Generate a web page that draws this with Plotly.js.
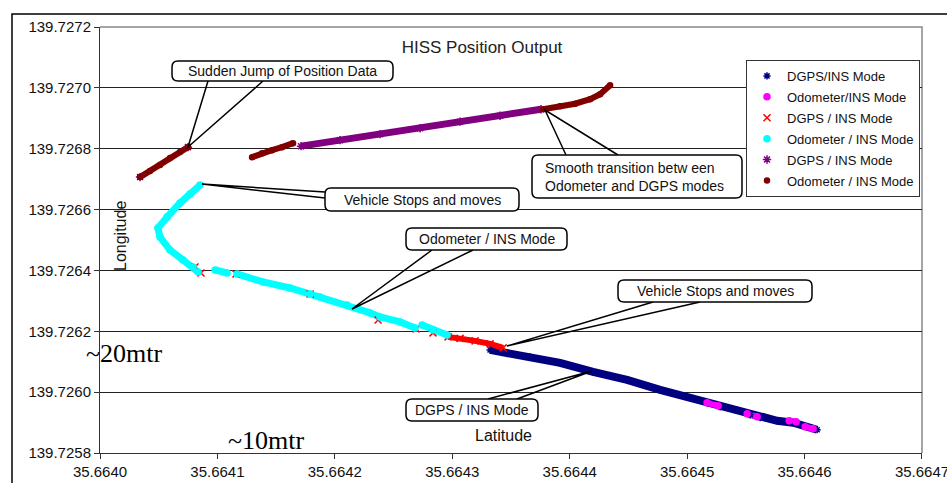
<!DOCTYPE html>
<html>
<head>
<meta charset="utf-8">
<script src="https://cdn.plot.ly/plotly-3.0.1.min.js"></script>
<style>html,body{margin:0;padding:0;background:#fff}#chart{width:947px;height:483px}</style>
</head>
<body>
<div id="chart"></div>
<script>
// ---- Data ----
const dgpsInsA_lat = [35.6643322,35.6643663,35.6643918,35.6644199,35.6644489,35.664477,35.6645,35.664517,35.6645281,35.6645426,35.6645537,35.6645622,35.6645767,35.6645903,35.6646107];
const dgpsInsA_lon = [139.7261389,139.726116,139.7260963,139.7260667,139.7260405,139.7260077,139.7259847,139.725965,139.7259519,139.725942,139.7259256,139.7259158,139.7259059,139.7258994,139.7258764];

const odoInsA_lat = [35.664517,35.6645264,null,35.6645511,35.6645596,null,35.6645869,35.6645928,null,35.6646005,35.6646073];
const odoInsA_lon = [139.725965,139.7259552,null,139.7259289,139.7259191,null,139.7259059,139.7259026,null,139.7258862,139.7258797];

const dgpsInsB_lat = [35.6640809,null,35.664086,null,35.6641158,null,35.6641789,null,35.6642368,null,35.6642692,null,35.6642836,null,35.6642964,35.6643066,35.6643194,35.6643322,35.6643433];
const dgpsInsB_lon = [139.7264113,null,139.7263916,null,139.7263884,null,139.7263227,null,139.7262374,null,139.7262079,null,139.7261947,null,139.7261816,139.7261767,139.7261685,139.7261586,139.7261455];

const odoInsB_lat = [35.6640852,35.6640766,35.6640681,35.6640571,35.6640494,35.6640511,35.6640596,35.6640707,35.6640792,35.6640835,null,35.664098,35.6641082,null,35.6641167,35.6641388,35.6641618,35.6641789,35.6641874,35.6642104,35.66423,35.6642385,35.6642555,35.6642683,null,35.6642743,35.6642836,35.6642956];
const odoInsB_lon = [139.7266804,139.7266509,139.7266214,139.7265754,139.7265393,139.7265098,139.7264671,139.7264343,139.7264113,139.7263949,null,139.7264015,139.7263916,null,139.7263884,139.7263621,139.7263424,139.7263227,139.7263129,139.7262866,139.7262604,139.7262472,139.7262308,139.7262111,null,139.726221,139.7262046,139.7261882];

const dgpsInsC_lat = [35.6640341,null,35.6640749,null,35.6641712,35.6642044,35.6642385,35.6642726,35.6643066,35.6643407,35.6643756];
const dgpsInsC_lon = [139.7267067,null,139.7268052,null,139.7268084,139.7268281,139.7268478,139.7268675,139.7268889,139.7269085,139.7269299];

const odoInsC_lat = [35.6640341,35.6640426,35.6640511,35.6640596,35.6640681,35.6640749,null,35.6641295,35.664138,35.6641465,35.664155,35.6641644,null,35.6643773,35.6643918,35.6644046,35.6644174,35.6644259,35.6644344];
const odoInsC_lon = [139.7267067,139.7267264,139.7267461,139.7267691,139.7267888,139.7268052,null,139.7267723,139.7267855,139.7267953,139.7268052,139.7268183,null,139.7269299,139.7269397,139.7269479,139.7269627,139.7269791,139.7270086];

const seriesNames = ["DGPS/INS Mode","Odometer/INS Mode","DGPS / INS Mode","Odometer / INS Mode","DGPS / INS Mode","Odometer / INS Mode"];
const xTickVals = [35.6640,35.6641,35.6642,35.6643,35.6644,35.6645,35.6646,35.6647];
const yTickVals = [139.7258,139.7260,139.7262,139.7264,139.7266,139.7268,139.7270,139.7272];

const chartTitle = "HISS Position Output";
const xTitle = "Latitude";
const yTitle = "Longitude";
const callouts = [
  "Sudden Jump of Position Data",
  "Vehicle Stops and moves",
  "Odometer / INS Mode",
  "Smooth transition betw een<br>Odometer and DGPS modes",
  "Vehicle Stops and moves",
  "DGPS / INS Mode"
];

// ---- Styling ----
const FONT = "Liberation Sans, Arial, sans-serif";
const series = [
  {x:dgpsInsA_lat, y:dgpsInsA_lon, color:"#000080", sym:"asterisk-open", size:6, lw:8},
  {x:odoInsA_lat, y:odoInsA_lon, color:"#FF00FF", sym:"circle", size:6, lw:6},
  {x:dgpsInsB_lat, y:dgpsInsB_lon, color:"#FF0000", sym:"x-thin-open", size:7, lw:6},
  {x:odoInsB_lat, y:odoInsB_lon, color:"#00FFFF", sym:"circle", size:6, lw:7},
  {x:dgpsInsC_lat, y:dgpsInsC_lon, color:"#800080", sym:"asterisk-open", size:7, lw:7},
  {x:odoInsC_lat, y:odoInsC_lon, color:"#800000", sym:"circle", size:5, lw:6}
];

const traces = [];
series.forEach((s,i)=>{
  traces.push({type:"scatter", mode:"lines", x:s.x, y:s.y, connectgaps:false,
    line:{color:s.color, width:s.lw}, legendgroup:"g"+i, showlegend:false, hoverinfo:"skip"});
});
series.forEach((s,i)=>{
  traces.push({type:"scatter", mode:"markers", name:seriesNames[i], x:s.x, y:s.y,
    legendgroup:"g"+i,
    marker:{color:s.color, symbol:s.sym, size:s.size, line:{color:s.color, width:1.5}}});
});

// pixel -> paper helpers for callouts (plot area: x 100..922, y 27..453)
const PX = x => (x-100)/822;
const PY = y => (453-y)/426;

const boxes = [
  {t:0, x0:172, x1:393, y0:61,  y1:81,  w:[208,81,188,147,263,81], align:"center"},
  {t:1, x0:325, x1:519, y0:188, y1:211, w:[325,192,202,184,325,198], align:"center"},
  {t:2, x0:406, x1:567, y0:228, y1:250, w:[432,250,352,309,473,250], align:"center"},
  {t:3, x0:532, x1:742, y0:155, y1:198, w:[566,155,545,110,618,155], align:"left"},
  {t:4, x0:618, x1:812, y0:280, y1:302, w:[653,302,507,346,700,302], align:"center"},
  {t:5, x0:406, x1:538, y0:399, y1:421, w:[488,399,592,371,517,399], align:"center"}
];

function roundedBox(x0,x1,y0,y1,r){
  const p=(x,y)=>`${PX(x)},${PY(y)}`;
  return `M ${p(x0+r,y0)} L ${p(x1-r,y0)} Q ${p(x1,y0)} ${p(x1,y0+r)} L ${p(x1,y1-r)} Q ${p(x1,y1)} ${p(x1-r,y1)} `+
         `L ${p(x0+r,y1)} Q ${p(x0,y1)} ${p(x0,y1-r)} L ${p(x0,y0+r)} Q ${p(x0,y0)} ${p(x0+r,y0)} Z`;
}

const shapes = [];
const annotations = [];
boxes.forEach(b=>{
  const w=b.w;
  shapes.push({type:"path", xref:"paper", yref:"paper", layer:"above",
    path:`M ${PX(w[0])},${PY(w[1])} L ${PX(w[2])},${PY(w[3])} L ${PX(w[4])},${PY(w[5])}`,
    line:{color:"#000", width:1.5}});
  shapes.push({type:"path", xref:"paper", yref:"paper", layer:"above",
    path:roundedBox(b.x0,b.x1,b.y0,b.y1,6), fillcolor:"#fff", line:{color:"#000", width:1.5}});
  annotations.push({xref:"paper", yref:"paper", x:PX(b.align==="left" ? b.x0+11 : (b.x0+b.x1)/2), y:PY((b.y0+b.y1)/2),
    xanchor:b.align==="left" ? "left" : "center", yanchor:"middle", showarrow:false, text:callouts[b.t],
    align:b.align, font:{family:FONT, size:14, color:"#111"}});
});
// axis titles inside plot, scale notes
annotations.push({xref:"paper", yref:"paper", x:PX(503), y:PY(435), xanchor:"center", yanchor:"middle",
  showarrow:false, text:xTitle, font:{family:FONT, size:16, color:"#111"}});
annotations.push({xref:"paper", yref:"paper", x:PX(120), y:PY(236), xanchor:"center", yanchor:"middle",
  showarrow:false, text:yTitle, textangle:-90, font:{family:FONT, size:16, color:"#111"}});
annotations.push({xref:"paper", yref:"paper", x:PX(124), y:PY(353), xanchor:"center", yanchor:"middle",
  showarrow:false, text:"~20mtr", font:{family:"Liberation Serif, Times New Roman, serif", size:26, color:"#000"}});
annotations.push({xref:"paper", yref:"paper", x:PX(266), y:PY(440), xanchor:"center", yanchor:"middle",
  showarrow:false, text:"~10mtr", font:{family:"Liberation Serif, Times New Roman, serif", size:26, color:"#000"}});

// frames
shapes.push({type:"rect", xref:"paper", yref:"paper", layer:"below",
  x0:PX(12), x1:PX(960), y0:PY(500), y1:PY(14), line:{color:"#000", width:1.5}});
shapes.push({type:"path", xref:"paper", yref:"paper", layer:"below",
  path:`M 0,1 L 1,1 L 1,0`, line:{color:"#888", width:1.5}});

const layout = {
  width:947, height:483,
  margin:{l:100, r:25, t:27, b:30},
  paper_bgcolor:"#fff", plot_bgcolor:"#fff",
  title:{text:chartTitle, font:{family:FONT, size:17, color:"#222"},
    xref:"paper", x:PX(482), xanchor:"center", yref:"paper", y:PY(47), yanchor:"middle"},
  xaxis:{range:[35.6640,35.66470001], tickvals:xTickVals, tickformat:".4f", ticks:"outside", ticklen:5,
    tickcolor:"#333", showline:true, linecolor:"#333", linewidth:1, showgrid:false, zeroline:false,
    ticklabeloverflow:"allow", tickfont:{family:FONT, size:15, color:"#111"}},
  yaxis:{range:[139.7258,139.72720001], tickvals:yTickVals, tickformat:".4f", ticks:"outside", ticklen:5,
    tickcolor:"#333", showline:true, linecolor:"#333", linewidth:1, showgrid:true, gridcolor:"#222",
    gridwidth:1, zeroline:false, ticklabeloverflow:"allow", tickfont:{family:FONT, size:15, color:"#111"}},
  showlegend:true,
  legend:{x:PX(746), y:PY(60), xanchor:"left", yanchor:"top", bgcolor:"#fff",
    bordercolor:"#333", borderwidth:1, font:{family:FONT, size:13, color:"#111"},
    traceorder:"grouped", tracegroupgap:1},
  shapes:shapes, annotations:annotations
};

Plotly.newPlot("chart", traces, layout, {displayModeBar:false, staticPlot:true});
</script>
</body>
</html>
